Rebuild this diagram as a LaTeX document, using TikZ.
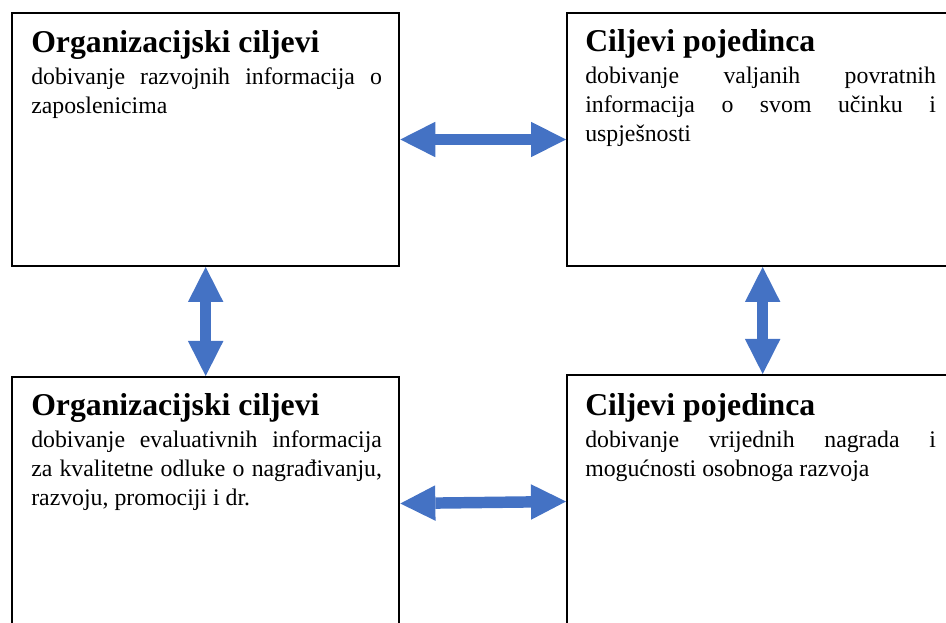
\documentclass[tikz,border=0pt]{standalone}
\usepackage{fontspec}
\setmainfont{Liberation Serif}
\usetikzlibrary{arrows.meta}
\definecolor{arrowblue}{RGB}{68,114,196}
\hyphenpenalty=10000
\tolerance=10000
\tikzset{
  goalbox/.style={draw, line width=1.5pt, rectangle, minimum width=290.5pt, minimum height=189.75pt, inner sep=0pt, anchor=north west},
  goaltext/.style={anchor=north west, inner sep=0pt, text width=263pt, align=justify, font=\fontsize{17.85}{21.7}\selectfont},
  dblarrow/.style={arrowblue, line width=8.6pt, {Triangle[length=26.25pt, width=26.6pt, line width=0pt]}-{Triangle[length=26.25pt, width=26.6pt, line width=0pt]}}
}
\newcommand{\goaltitle}[1]{{\fontsize{23.8}{26}\selectfont\bfseries #1\par}\vspace{2.6pt}}
\begin{document}
\begin{tikzpicture}[x=0.75pt,y=0.75pt,yscale=-1,xscale=1]
\useasboundingbox (0,0) rectangle (946,623);
\clip (0,0) rectangle (946,623);

%Shape: Rectangle [orgtop]
    \node [goalbox] (orgtop) at (11,12) {};
%Shape: Rectangle [indtop]
    \node [goalbox] (indtop) at (566,12) {};
%Shape: Rectangle [orgbot]
    \node [goalbox] (orgbot) at (11,376) {};
%Shape: Rectangle [indbot]
    \node [goalbox] (indbot) at (566,374) {};

% Text Node
    \node [goaltext] (orgtoptext) at ([shift={(20,18)}]orgtop.north west) {\goaltitle{Organizacijski ciljevi}dobivanje razvojnih informacija o\linebreak zaposlenicima};
% Text Node
    \node [goaltext] (indtoptext) at ([shift={(19,17)}]indtop.north west) {\goaltitle{Ciljevi pojedinca}dobivanje valjanih povratnih\linebreak informacija o svom učinku i\linebreak uspješnosti};
% Text Node
    \node [goaltext] (orgbottext) at ([shift={(20,17)}]orgbot.north west) {\goaltitle{Organizacijski ciljevi}dobivanje evaluativnih informacija\linebreak za kvalitetne odluke o nagrađivanju,\linebreak razvoju, promociji i dr.};
% Text Node
    \node [goaltext] (indbottext) at ([shift={(19,19)}]indbot.north west) {\goaltitle{Ciljevi pojedinca}dobivanje vrijednih nagrada i\linebreak mogućnosti osobnoga razvoja};

%Straight Lines [double arrows]
    \draw [dblarrow] (orgtop.east) -- (indtop.west);
    \draw [dblarrow] (orgbot.east) -- (indbot.west);
    \draw [dblarrow] (orgtop.south) -- (orgbot.north);
    \draw [dblarrow] ([xshift=1.5pt]indtop.south) -- ([xshift=1.5pt]indbot.north);

\end{tikzpicture}
\end{document}
